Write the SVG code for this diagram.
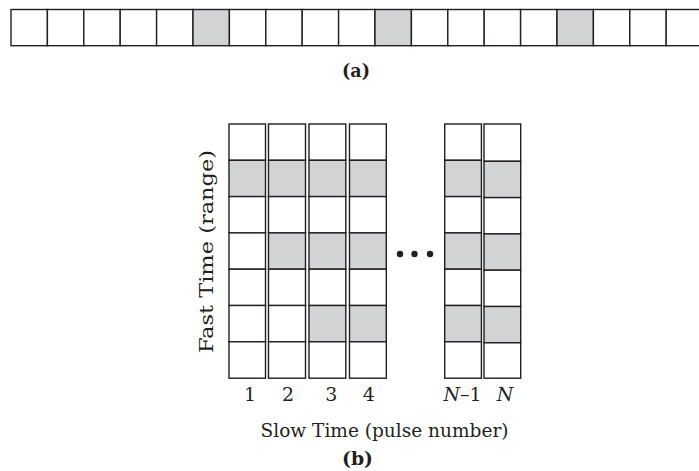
<svg xmlns="http://www.w3.org/2000/svg" width="699" height="471" viewBox="0 0 699 471">
<style>
.c{fill:#ffffff;stroke:#231f20;stroke-width:1.4}
.s{fill:#d1d3d4;stroke:#231f20;stroke-width:1.4}
.t{font-family:"DejaVu Serif","Liberation Serif",serif;fill:#231f20}
.b{font-family:"DejaVu Serif","Liberation Serif",serif;font-weight:bold;fill:#231f20}
</style>
<rect width="699" height="471" fill="#ffffff"/>
<g id="row-a">
<rect class="c" x="11" y="9.5" width="36.4" height="36.2"/>
<rect class="c" x="47.4" y="9.5" width="36.4" height="36.2"/>
<rect class="c" x="83.8" y="9.5" width="36.4" height="36.2"/>
<rect class="c" x="120.2" y="9.5" width="36.4" height="36.2"/>
<rect class="c" x="156.6" y="9.5" width="36.4" height="36.2"/>
<rect class="s" x="193" y="9.5" width="36.4" height="36.2"/>
<rect class="c" x="229.4" y="9.5" width="36.4" height="36.2"/>
<rect class="c" x="265.8" y="9.5" width="36.4" height="36.2"/>
<rect class="c" x="302.2" y="9.5" width="36.4" height="36.2"/>
<rect class="c" x="338.6" y="9.5" width="36.4" height="36.2"/>
<rect class="s" x="375" y="9.5" width="36.4" height="36.2"/>
<rect class="c" x="411.4" y="9.5" width="36.4" height="36.2"/>
<rect class="c" x="447.8" y="9.5" width="36.4" height="36.2"/>
<rect class="c" x="484.2" y="9.5" width="36.4" height="36.2"/>
<rect class="c" x="520.6" y="9.5" width="36.4" height="36.2"/>
<rect class="s" x="557" y="9.5" width="36.4" height="36.2"/>
<rect class="c" x="593.4" y="9.5" width="36.4" height="36.2"/>
<rect class="c" x="629.8" y="9.5" width="36.4" height="36.2"/>
<rect class="c" x="666.2" y="9.5" width="36.4" height="36.2"/>
</g>
<text id="label-a" class="b" x="356" y="76.5" font-size="18" text-anchor="middle" textLength="28" lengthAdjust="spacingAndGlyphs">(a)</text>
<g id="grid-b">
<g id="col-1">
<rect class="c" x="229" y="124" width="36.5" height="36.3"/>
<rect class="s" x="229" y="160.3" width="36.5" height="36.3"/>
<rect class="c" x="229" y="196.6" width="36.5" height="36.3"/>
<rect class="c" x="229" y="232.9" width="36.5" height="36.3"/>
<rect class="c" x="229" y="269.2" width="36.5" height="36.3"/>
<rect class="c" x="229" y="305.5" width="36.5" height="36.3"/>
<rect class="c" x="229" y="341.8" width="36.5" height="36.4"/>
</g>
<g id="col-2">
<rect class="c" x="268.5" y="124" width="37" height="36.3"/>
<rect class="s" x="268.5" y="160.3" width="37" height="36.3"/>
<rect class="c" x="268.5" y="196.6" width="37" height="36.3"/>
<rect class="s" x="268.5" y="232.9" width="37" height="36.3"/>
<rect class="c" x="268.5" y="269.2" width="37" height="36.3"/>
<rect class="c" x="268.5" y="305.5" width="37" height="36.3"/>
<rect class="c" x="268.5" y="341.8" width="37" height="36.4"/>
</g>
<g id="col-3">
<rect class="c" x="309" y="124" width="36.8" height="36.3"/>
<rect class="s" x="309" y="160.3" width="36.8" height="36.3"/>
<rect class="c" x="309" y="196.6" width="36.8" height="36.3"/>
<rect class="s" x="309" y="232.9" width="36.8" height="36.3"/>
<rect class="c" x="309" y="269.2" width="36.8" height="36.3"/>
<rect class="s" x="309" y="305.5" width="36.8" height="36.3"/>
<rect class="c" x="309" y="341.8" width="36.8" height="36.4"/>
</g>
<g id="col-4">
<rect class="c" x="349.5" y="124" width="36.8" height="36.3"/>
<rect class="s" x="349.5" y="160.3" width="36.8" height="36.3"/>
<rect class="c" x="349.5" y="196.6" width="36.8" height="36.3"/>
<rect class="s" x="349.5" y="232.9" width="36.8" height="36.3"/>
<rect class="c" x="349.5" y="269.2" width="36.8" height="36.3"/>
<rect class="s" x="349.5" y="305.5" width="36.8" height="36.3"/>
<rect class="c" x="349.5" y="341.8" width="36.8" height="36.4"/>
</g>
<g id="ellipsis" fill="#231f20">
<circle cx="400" cy="254" r="3.2"/>
<circle cx="414.5" cy="254" r="3.2"/>
<circle cx="430" cy="254" r="3.2"/>
</g>
<g id="col-n-1">
<rect class="c" x="444.7" y="124" width="36.7" height="36.3"/>
<rect class="s" x="444.7" y="160.3" width="36.7" height="36.3"/>
<rect class="c" x="444.7" y="196.6" width="36.7" height="36.3"/>
<rect class="s" x="444.7" y="232.9" width="36.7" height="36.3"/>
<rect class="c" x="444.7" y="269.2" width="36.7" height="36.3"/>
<rect class="s" x="444.7" y="305.5" width="36.7" height="36.3"/>
<rect class="c" x="444.7" y="341.8" width="36.7" height="36.4"/>
</g>
<g id="col-n">
<rect class="c" x="484" y="124" width="36.7" height="37.3"/>
<rect class="s" x="484" y="161.3" width="36.7" height="36.3"/>
<rect class="c" x="484" y="197.6" width="36.7" height="36.3"/>
<rect class="s" x="484" y="233.9" width="36.7" height="36.3"/>
<rect class="c" x="484" y="270.2" width="36.7" height="36.3"/>
<rect class="s" x="484" y="306.5" width="36.7" height="36.3"/>
<rect class="c" x="484" y="342.8" width="36.7" height="35.4"/>
</g>
</g>
<g id="labels-b" class="t" font-size="19" text-anchor="middle">
<text x="250" y="400.7">1</text>
<text x="288" y="400.7">2</text>
<text x="331.3" y="400.7">3</text>
<text x="368.7" y="400.7">4</text>
<text x="462.5" y="400.7" textLength="38" lengthAdjust="spacingAndGlyphs"><tspan font-style="italic">N</tspan>–1</text>
<text x="505" y="400.7" font-style="italic">N</text>
<text x="384.5" y="437" textLength="248" lengthAdjust="spacingAndGlyphs">Slow Time (pulse number)</text>
<text transform="translate(213,251.5) rotate(-90)" x="0" y="0" textLength="203" lengthAdjust="spacingAndGlyphs">Fast Time (range)</text>
</g>
<text id="label-b" class="b" x="357.5" y="465" font-size="18" text-anchor="middle" textLength="31" lengthAdjust="spacingAndGlyphs">(b)</text>
</svg>
